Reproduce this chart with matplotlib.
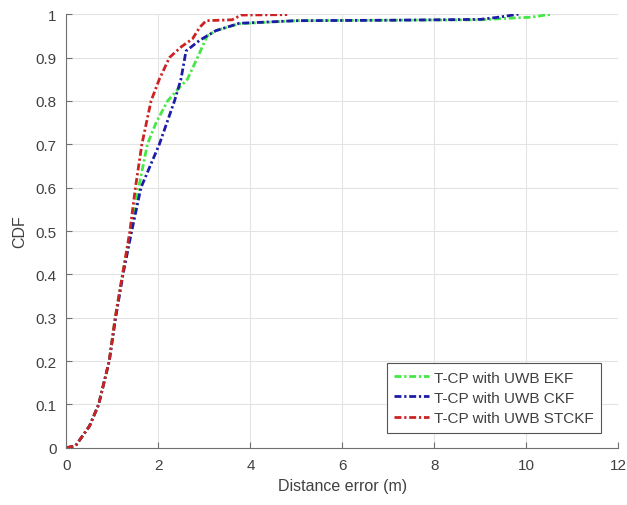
import matplotlib
matplotlib.use("Agg")
import matplotlib.pyplot as plt

ekf_x = [0, 0.2, 0.3, 0.5, 0.7, 0.93, 1.06, 1.22, 1.40, 1.57, 1.76, 1.95, 2.2, 2.45, 2.63, 2.85, 3.06, 3.25, 3.76, 5.0, 9.0, 9.5, 10.1, 10.55]
ekf_y = [0, 0.005, 0.02, 0.05, 0.1, 0.2, 0.3, 0.4, 0.5, 0.6, 0.7, 0.75, 0.8, 0.83, 0.85, 0.9, 0.95, 0.962, 0.978, 0.985, 0.987, 0.99, 0.993, 1.0]

ckf_x = [0, 0.2, 0.3, 0.5, 0.7, 0.93, 1.07, 1.23, 1.42, 1.62, 2.02, 2.35, 2.49, 2.6, 2.9, 3.25, 3.76, 5.0, 7.0, 9.0, 9.4, 9.83]
ckf_y = [0, 0.005, 0.02, 0.05, 0.1, 0.2, 0.3, 0.4, 0.5, 0.6, 0.7, 0.8, 0.85, 0.915, 0.94, 0.962, 0.979, 0.985, 0.986, 0.988, 0.993, 1.0]

stckf_x = [0, 0.2, 0.3, 0.5, 0.7, 0.93, 1.06, 1.22, 1.38, 1.5, 1.64, 1.84, 2.02, 2.24, 2.5, 2.74, 2.9, 3.04, 3.6, 3.8, 4.8]
stckf_y = [0, 0.005, 0.02, 0.05, 0.1, 0.2, 0.3, 0.4, 0.5, 0.6, 0.7, 0.8, 0.85, 0.9, 0.925, 0.943, 0.97, 0.985, 0.987, 0.998, 0.999]

labels = ["T-CP with UWB EKF", "T-CP with UWB CKF", "T-CP with UWB STCKF"]

plt.rcParams['font.family'] = ['Liberation Sans', 'DejaVu Sans']
txt = '#404040'
dd = (2.5, 1.0, 0.8, 1.0)

fig = plt.figure(figsize=(6.27, 5.06), dpi=100)
ax = fig.add_axes([0.106, 0.113, 0.880, 0.857])

ax.plot(ekf_x, ekf_y, color='#44e844', lw=2, dashes=dd, label=labels[0])
ax.plot(ckf_x, ckf_y, color='#1c1ca8', lw=2, dashes=dd, label=labels[1])
ax.plot(stckf_x, stckf_y, color='#cc2222', lw=2, dashes=dd, label=labels[2])

ax.set_xlim(0, 12)
ax.set_ylim(0, 1)
ax.set_xticks(range(0, 13, 2))
ax.set_yticks([i / 10 for i in range(11)])
ax.set_yticklabels(['0', '0.1', '0.2', '0.3', '0.4', '0.5', '0.6', '0.7', '0.8', '0.9', '1'])
ax.grid(True, color='#e3e3e3', lw=0.8)
ax.set_axisbelow(True)
for s in ['top', 'right']:
    ax.spines[s].set_visible(False)
for s in ['left', 'bottom']:
    ax.spines[s].set_color('#707070')
ax.tick_params(direction='in', length=4, color='#707070', labelcolor=txt, labelsize=11, pad=7)
ax.set_xlabel("Distance error (m)", fontsize=11.5, color=txt, labelpad=5)
ax.set_ylabel("CDF", fontsize=11.5, color=txt, labelpad=6)

leg = ax.legend(loc='lower right', fontsize=11, fancybox=False, framealpha=1,
                edgecolor='#555555', handlelength=2.3, borderaxespad=1.0,
                bbox_to_anchor=(0.997, 0.0), labelcolor=txt, handletextpad=0.3,
                labelspacing=0.4, borderpad=0.5)
leg.get_frame().set_linewidth(0.8)

fig.savefig("out.png", dpi=100)
